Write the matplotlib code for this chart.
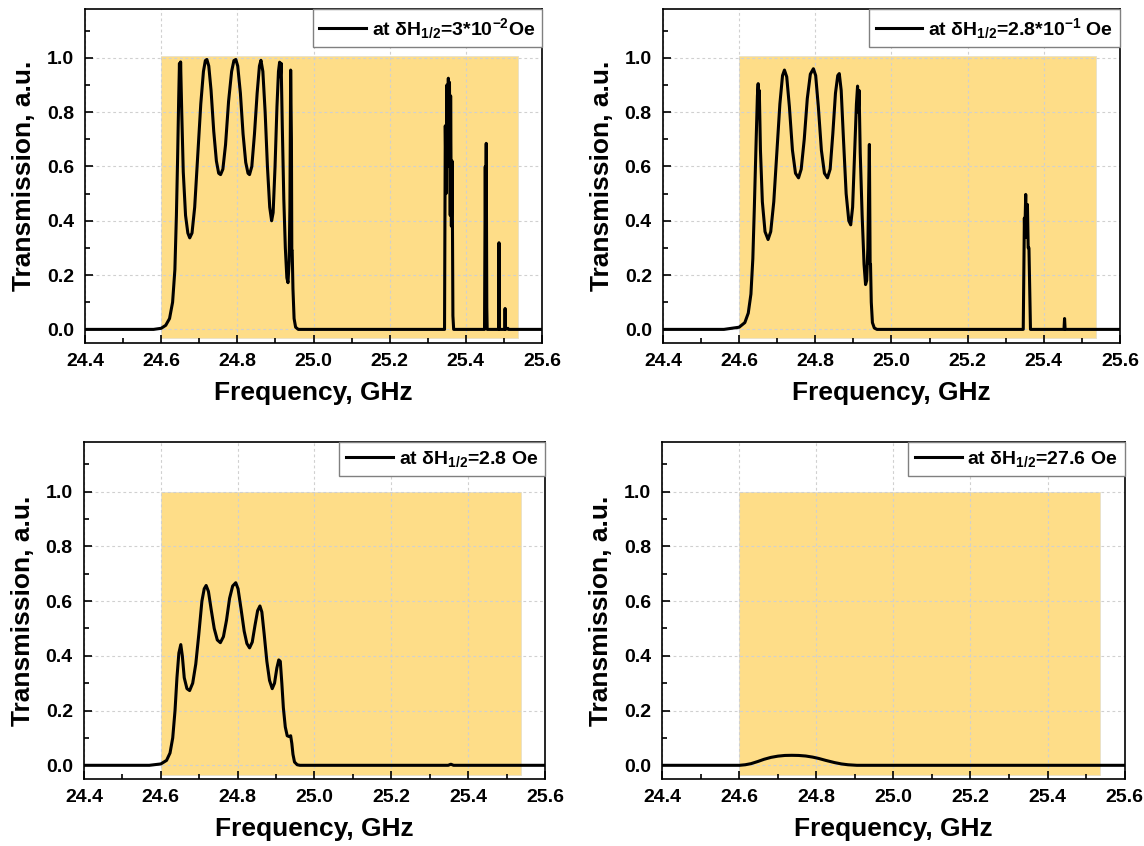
import numpy as np
import matplotlib
matplotlib.use('Agg')
import matplotlib.pyplot as plt

plt.rcParams['font.family'] = ['Liberation Sans', 'DejaVu Sans']
plt.rcParams['font.weight'] = 'bold'
plt.rcParams['mathtext.fontset'] = 'custom'
plt.rcParams['mathtext.rm'] = 'Liberation Sans:bold'
plt.rcParams['mathtext.bf'] = 'Liberation Sans:bold'
plt.rcParams['mathtext.it'] = 'Liberation Sans:bold'

# shaded pass band (GHz)
band_start = 24.6
band_end = 25.537

# dH = 3e-2 Oe
f1 = [24.400, 24.580, 24.600, 24.612, 24.622, 24.630, 24.636, 24.640, 24.643, 24.646,
      24.648, 24.6495, 24.651, 24.654, 24.658, 24.664, 24.670, 24.675, 24.681, 24.688,
      24.696, 24.704, 24.711, 24.716, 24.720, 24.725, 24.731, 24.738, 24.745, 24.751,
      24.756, 24.762, 24.769, 24.777, 24.785, 24.791, 24.796, 24.801, 24.808, 24.815,
      24.822, 24.828, 24.832, 24.838, 24.845, 24.852, 24.858, 24.862, 24.867, 24.873,
      24.879, 24.885, 24.890, 24.894, 24.899, 24.904, 24.908, 24.911, 24.913, 24.915,
      24.918, 24.922, 24.926, 24.930, 24.933, 24.936, 24.938, 24.940, 24.942, 24.943,
      24.944, 24.946, 24.949, 24.953, 24.960,
      25.344, 25.346, 25.348, 25.350, 25.352, 25.354, 25.356, 25.357, 25.359, 25.360,
      25.362, 25.364, 25.366, 25.368,
      25.449, 25.451, 25.452, 25.4535, 25.455, 25.456,
      25.486, 25.487, 25.488, 25.502, 25.503, 25.504, 25.510, 25.512, 25.600]
t1 = [0.000, 0.000, 0.004, 0.015, 0.040, 0.100, 0.220, 0.420, 0.620, 0.850,
      0.980, 0.830, 0.985, 0.800, 0.580, 0.420, 0.355, 0.337, 0.355, 0.450,
      0.640, 0.830, 0.950, 0.990, 0.994, 0.970, 0.880, 0.730, 0.620, 0.575,
      0.570, 0.590, 0.680, 0.840, 0.950, 0.990, 0.994, 0.970, 0.870, 0.720,
      0.615, 0.575, 0.570, 0.600, 0.720, 0.870, 0.970, 0.991, 0.950, 0.800,
      0.600, 0.450, 0.400, 0.430, 0.600, 0.820, 0.950, 0.984, 0.930, 0.980,
      0.750, 0.480, 0.300, 0.190, 0.172, 0.250, 0.450, 0.955, 0.700, 0.290,
      0.290, 0.150, 0.040, 0.008, 0.000,
      0.000, 0.750, 0.500, 0.900, 0.650, 0.925, 0.600, 0.910, 0.420, 0.860,
      0.380, 0.620, 0.050, 0.000,
      0.000, 0.600, 0.300, 0.685, 0.080, 0.000,
      0.000, 0.319, 0.000, 0.000, 0.077, 0.000, 0.004, 0.000, 0.000]

# dH = 2.8e-1 Oe
f2 = [24.400, 24.560, 24.600, 24.615, 24.624, 24.631, 24.636, 24.640, 24.644, 24.648,
      24.650, 24.6515, 24.653, 24.656, 24.661, 24.668, 24.676, 24.683, 24.691, 24.699,
      24.707, 24.714, 24.719, 24.725, 24.732, 24.740, 24.748, 24.756, 24.763, 24.771,
      24.779, 24.787, 24.795, 24.801, 24.808, 24.816, 24.824, 24.832, 24.839, 24.846,
      24.853, 24.859, 24.863, 24.868, 24.874, 24.881, 24.888, 24.893, 24.898, 24.903,
      24.908, 24.911, 24.913, 24.915, 24.918, 24.923, 24.928, 24.932, 24.935, 24.938,
      24.940, 24.942, 24.944, 24.945, 24.947, 24.950, 24.955, 24.962,
      25.346, 25.349, 25.350, 25.3525, 25.354, 25.357, 25.359, 25.361, 25.365,
      25.453, 25.4545, 25.456, 25.600]
t2 = [0.000, 0.000, 0.008, 0.025, 0.060, 0.130, 0.260, 0.450, 0.660, 0.860,
      0.905, 0.780, 0.880, 0.660, 0.470, 0.360, 0.331, 0.360, 0.470, 0.650,
      0.830, 0.935, 0.955, 0.930, 0.820, 0.660, 0.575, 0.558, 0.590, 0.700,
      0.850, 0.940, 0.960, 0.935, 0.820, 0.660, 0.575, 0.558, 0.590, 0.720,
      0.870, 0.935, 0.942, 0.880, 0.700, 0.500, 0.400, 0.385, 0.450, 0.640,
      0.830, 0.896, 0.800, 0.880, 0.650, 0.420, 0.240, 0.165, 0.180, 0.300,
      0.500, 0.681, 0.240, 0.240, 0.100, 0.025, 0.005, 0.000,
      0.000, 0.410, 0.340, 0.497, 0.340, 0.460, 0.300, 0.300, 0.000,
      0.000, 0.040, 0.000, 0.000]

# dH = 2.8 Oe
f3 = [24.400, 24.570, 24.600, 24.615, 24.624, 24.631, 24.637, 24.642, 24.647, 24.652,
      24.656, 24.661, 24.668, 24.675, 24.683, 24.691, 24.699, 24.707, 24.713, 24.718,
      24.724, 24.731, 24.739, 24.747, 24.755, 24.763, 24.771, 24.779, 24.787, 24.795,
      24.801, 24.809, 24.817, 24.824, 24.831, 24.838, 24.845, 24.852, 24.858, 24.863,
      24.869, 24.876, 24.883, 24.890, 24.896, 24.902, 24.907, 24.911, 24.915, 24.919,
      24.924, 24.929, 24.934, 24.938, 24.941, 24.944, 24.948, 24.955, 24.962,
      25.348, 25.355, 25.362, 25.600]
t3 = [0.000, 0.000, 0.005, 0.018, 0.045, 0.100, 0.200, 0.320, 0.410, 0.441,
      0.400, 0.320, 0.280, 0.273, 0.300, 0.370, 0.480, 0.600, 0.645, 0.657,
      0.635, 0.570, 0.500, 0.458, 0.448, 0.470, 0.530, 0.610, 0.655, 0.667,
      0.645, 0.570, 0.490, 0.445, 0.429, 0.450, 0.510, 0.565, 0.582, 0.560,
      0.480, 0.380, 0.310, 0.280, 0.300, 0.355, 0.385, 0.380, 0.300, 0.210,
      0.140, 0.108, 0.105, 0.108, 0.080, 0.040, 0.012, 0.002, 0.000,
      0.000, 0.004, 0.000, 0.000]

# dH = 27.6 Oe
f4 = [24.400, 24.600, 24.615, 24.630, 24.648, 24.664, 24.682, 24.700, 24.718, 24.736,
      24.754, 24.772, 24.790, 24.806, 24.824, 24.847, 24.865, 24.882, 24.905, 25.600]
t4 = [0.000, 0.000, 0.002, 0.006, 0.014, 0.022, 0.029, 0.0335, 0.036, 0.0365,
      0.036, 0.034, 0.030, 0.025, 0.018, 0.010, 0.005, 0.002, 0.000, 0.000]

labels = [r'at $\delta$H$_{1/2}$=3*10$^{-2}$Oe',
          r'at $\delta$H$_{1/2}$=2.8*10$^{-1}$ Oe',
          r'at $\delta$H$_{1/2}$=2.8 Oe',
          r'at $\delta$H$_{1/2}$=27.6 Oe']
freqs = [f1, f2, f3, f4]
trans = [t1, t2, t3, t4]

# axes boxes in figure fractions
boxes = [[0.0743, 0.5946, 0.3995, 0.3948],
         [0.5795, 0.5946, 0.3995, 0.3948],
         [0.0734, 0.0792, 0.4030, 0.3980],
         [0.5790, 0.0792, 0.4040, 0.3980]]
band_y = [(-0.03, 1.008), (-0.03, 1.008), (-0.035, 1.0), (-0.035, 1.0)]

fig = plt.figure(figsize=(11.44, 8.46), dpi=100)

for i in range(4):
    ax = fig.add_axes(boxes[i])
    y0, y1 = band_y[i]
    ax.fill_between([band_start, band_end], y0, y1, color='#fedd88',
                    edgecolor='#e8e0c8', linewidth=0.6, zorder=0.5)
    ax.plot(freqs[i], trans[i], color='black', lw=2.2, label=labels[i], zorder=3)
    ax.set_xlim(24.4, 25.6)
    ax.set_ylim(-0.05, 1.18)
    ax.set_xticks(np.arange(24.4, 25.61, 0.2))
    ax.set_xticks(np.arange(24.5, 25.6, 0.2), minor=True)
    ax.set_yticks(np.arange(0, 1.01, 0.2))
    ax.set_yticks([0.1, 0.3, 0.5, 0.7, 0.9, 1.1], minor=True)
    ax.set_xticklabels(['%.1f' % v for v in np.arange(24.4, 25.61, 0.2)])
    ax.set_yticklabels(['%.1f' % v for v in np.arange(0, 1.01, 0.2)])
    ax.tick_params(which='both', direction='in', width=1.2, labelsize=14)
    ax.tick_params(which='major', length=6)
    ax.tick_params(which='minor', length=3.5)
    ax.tick_params(axis='y', pad=8)
    ax.tick_params(axis='x', pad=7)
    ax.grid(True, which='major', color='#d0d0d0', linestyle=(0, (2.5, 2.5)), lw=0.8)
    for s in ax.spines.values():
        s.set_linewidth(1.2)
    ax.set_xlabel('Frequency, GHz', fontsize=19, fontweight='bold', labelpad=8)
    ax.set_ylabel('Transmission, a.u.', fontsize=19, fontweight='bold', labelpad=8)
    leg = ax.legend(loc='upper right', fontsize=14, borderaxespad=0, fancybox=False,
                    framealpha=1, edgecolor='#808080', handlelength=2.4,
                    handletextpad=0.3, borderpad=0.35)
    leg.get_frame().set_linewidth(1.0)

fig.savefig('out.png', dpi=100)
